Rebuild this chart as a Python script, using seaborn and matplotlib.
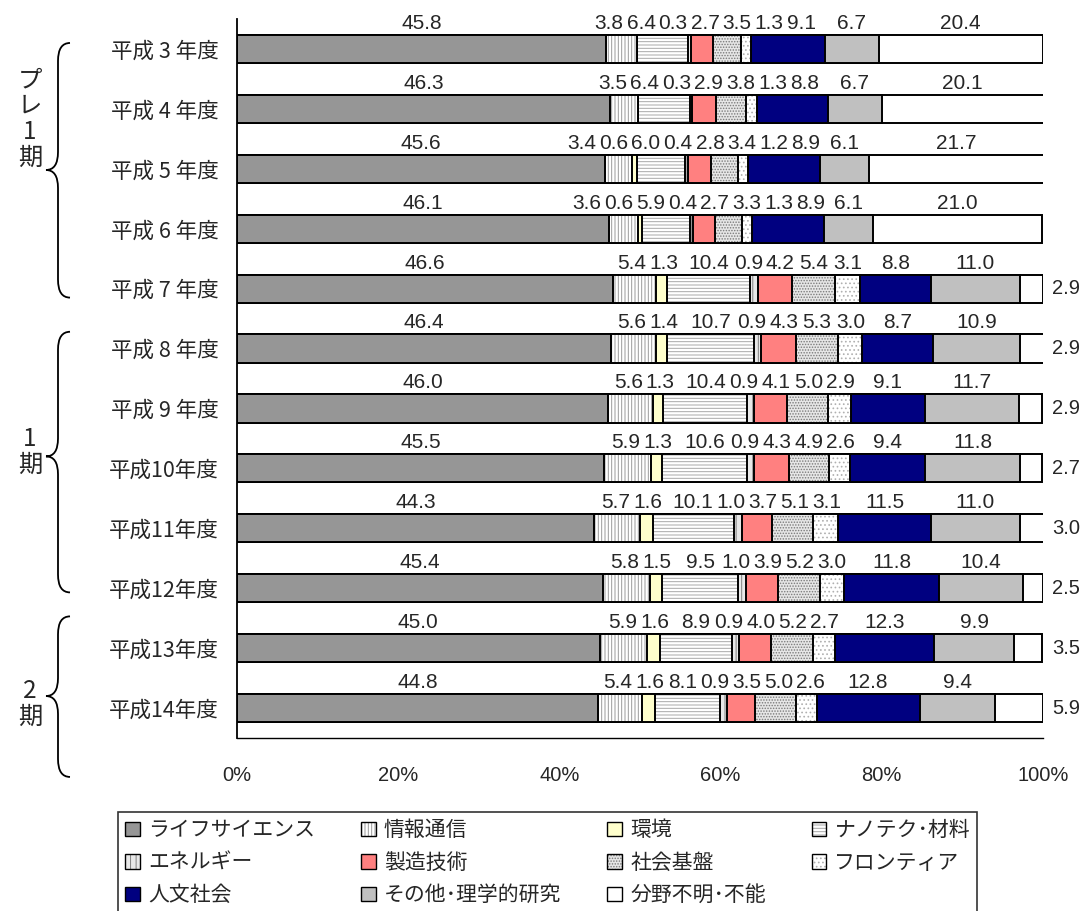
import numpy as np
import pandas as pd
import seaborn as sns
import matplotlib.pyplot as plt
import matplotlib.colors as mcolors
import matplotlib.transforms as mtransforms
from matplotlib.patches import Patch, PathPatch
from matplotlib.path import Path

years = ['平成 3 年度', '平成 4 年度', '平成 5 年度', '平成 6 年度', '平成 7 年度',
         '平成 8 年度', '平成 9 年度', '平成10年度', '平成11年度', '平成12年度',
         '平成13年度', '平成14年度']

fields = ['ライフサイエンス', '情報通信', '環境', 'ナノテク･材料', 'エネルギー',
          '製造技術', '社会基盤', 'フロンティア', '人文社会', 'その他･理学的研究',
          '分野不明･不能']

life = [45.8, 46.3, 45.6, 46.1, 46.6, 46.4, 46.0, 45.5, 44.3, 45.4, 45.0, 44.8]
info = [3.8, 3.5, 3.4, 3.6, 5.4, 5.6, 5.6, 5.9, 5.7, 5.8, 5.9, 5.4]
env = [0, 0, 0.6, 0.6, 1.3, 1.4, 1.3, 1.3, 1.6, 1.5, 1.6, 1.6]
nano = [6.4, 6.4, 6.0, 5.9, 10.4, 10.7, 10.4, 10.6, 10.1, 9.5, 8.9, 8.1]
energy = [0.3, 0.3, 0.4, 0.4, 0.9, 0.9, 0.9, 0.9, 1.0, 1.0, 0.9, 0.9]
manuf = [2.7, 2.9, 2.8, 2.7, 4.2, 4.3, 4.1, 4.3, 3.7, 3.9, 4.0, 3.5]
infra = [3.5, 3.8, 3.4, 3.3, 5.4, 5.3, 5.0, 4.9, 5.1, 5.2, 5.2, 5.0]
frontier = [1.3, 1.3, 1.2, 1.3, 3.1, 3.0, 2.9, 2.6, 3.1, 3.0, 2.7, 2.6]
human = [9.1, 8.8, 8.9, 8.9, 8.8, 8.7, 9.1, 9.4, 11.5, 11.8, 12.3, 12.8]
other = [6.7, 6.7, 6.1, 6.1, 11.0, 10.9, 11.7, 11.8, 11.0, 10.4, 9.9, 9.4]
unknown = [20.4, 20.1, 21.7, 21.0, 2.9, 2.9, 2.9, 2.7, 3.0, 2.5, 3.5, 5.9]

groups = ['プ\nレ\n1\n期', '1\n期', '2\n期']
pct_ticks = [0, 20, 40, 60, 80, 100]
pct_labels = ['0%', '20%', '40%', '60%', '80%', '100%']

series = [life, info, env, nano, energy, manuf, infra, frontier, human, other, unknown]

colors = ['#969696', 'white', '#FFFFCC', 'white', '#E8E8E8', '#FF8080',
          '#E6E6E6', 'white', '#000080', '#C0C0C0', 'white']
hatches = ['', '|||||', '', '-----', '|||', '', '......', '....', '', '', '']
hatch_cols = ['k', '#9a9a9a', 'k', '#a8a8a8', '#808080', 'k', '#7a7a7a', '#b0b0b0', 'k', 'k', 'k']

# long table with stacked start / end
rows = []
for yi, yr in enumerate(years):
    cum = 0.0
    for fi, f in enumerate(fields):
        v = series[fi][yi]
        rows.append({'year': yr, 'field': f, 'value': v, 'start': cum, 'end': cum + v})
        cum += v
df = pd.DataFrame(rows)

sns.set_style('white')
plt.rcParams['font.family'] = ['Noto Sans CJK JP', 'DejaVu Sans']
plt.rcParams['hatch.linewidth'] = 0.7


def set_hatch_color(p, c):
    if hasattr(p, 'set_hatchcolor'):
        p.set_hatchcolor(c)
    else:
        p._hatch_color = mcolors.to_rgba(c)


fig = plt.figure(figsize=(10.85, 9.11), dpi=100)
ax = fig.add_axes([237 / 1085, 1 - 738 / 911, (1043 - 237) / 1085, (738 - 19) / 911])

# stacked bars: draw cumulative ends from the last field back to the first
for fi in reversed(range(len(fields))):
    sub = df[df['field'] == fields[fi]]
    n0 = len(ax.patches)
    sns.barplot(data=sub, x='end', y='year', order=years, orient='h',
                color=colors[fi], saturation=1, width=0.47, errorbar=None,
                edgecolor='black', linewidth=1.4, ax=ax)
    for p in ax.patches[n0:]:
        if hatches[fi]:
            p.set_hatch(hatches[fi])
            set_hatch_color(p, hatch_cols[fi])

num_font = ['Liberation Sans', 'DejaVu Sans']
ax.set_xlim(0, 100)
ax.set_ylim(11.5, -0.5)
ax.set_xlabel('')
ax.set_ylabel('')
ax.set_xticks(pct_ticks)
ax.set_xticklabels(pct_labels, family=num_font, fontsize=14.5)
ax.set_yticks(range(len(years)))
ax.set_yticklabels(years, fontsize=15.5)
ax.set_yticks(np.arange(-0.5, len(years), 1), minor=True)
ax.tick_params(axis='y', which='major', length=0, pad=13)
ax.tick_params(axis='y', which='minor', direction='in', length=8, width=1.5, color='#808080')
ax.tick_params(axis='x', which='major', direction='in', length=8, width=1, color='black', pad=20)
for s in ['top', 'right']:
    ax.spines[s].set_visible(False)
ax.spines['left'].set_color('black')
ax.spines['left'].set_linewidth(1.3)
ax.spines['bottom'].set_color('black')
ax.spines['bottom'].set_linewidth(1.0)

# value labels
up = mtransforms.offset_copy(ax.transData, fig=fig, y=2, units='dots')
right = mtransforms.offset_copy(ax.transData, fig=fig, x=9, units='dots')
above = {}
for yi in range(len(years)):
    sub = df[df['year'] == years[yi]].reset_index(drop=True)
    above[yi] = []
    for fi in range(len(fields)):
        v = sub.loc[fi, 'value']
        if v <= 0:
            continue
        if fi == len(fields) - 1 and v < 10:
            ax.text(100, yi, f'{v:.1f}', transform=right, ha='left', va='center',
                    fontsize=14.5, family=num_font)
        else:
            cx = sub.loc[fi, 'start'] + v / 2
            t = ax.text(cx, yi - 0.235, f'{v:.1f}', transform=up, ha='center',
                        va='bottom', fontsize=15, family=num_font)
            above[yi].append(t)

# spread crowded labels apart
fig.canvas.draw()
renderer = fig.canvas.get_renderer()
for yi, texts in above.items():
    w = [t.get_window_extent(renderer).width for t in texts]
    px = [ax.transData.transform((t.get_position()[0], 0))[0] for t in texts]
    for _ in range(300):
        for k in range(len(px) - 1):
            need = (w[k] + w[k + 1]) / 2 + 3
            d = px[k + 1] - px[k]
            if d < need:
                sh = (need - d) / 2
                px[k] -= sh
                px[k + 1] += sh
    for t, p in zip(texts, px):
        t.set_x(ax.transData.inverted().transform((p, 0))[0])

# braces and period labels
btrans = mtransforms.blended_transform_factory(fig.transFigure, ax.transData)
brace_spans = [(-0.1, 2.02, 4.15), (4.72, 6.8, 9.07), (9.47, 10.8, 12.15)]
label_y = [1.17, 6.72, 10.93]
x_end, x_line, x_tip = 70 / 1085, 58 / 1085, 46 / 1085
r = 0.3
for (y0, ym, y1), lab, ly in zip(brace_spans, groups, label_y):
    verts = [(x_end, y0), (x_line, y0), (x_line, y0 + r),
             (x_line, ym - r), (x_line, ym), (x_tip, ym),
             (x_line, ym), (x_line, ym + r),
             (x_line, y1 - r), (x_line, y1), (x_end, y1)]
    codes = [Path.MOVETO, Path.CURVE3, Path.CURVE3,
             Path.LINETO, Path.CURVE3, Path.CURVE3,
             Path.CURVE3, Path.CURVE3,
             Path.LINETO, Path.CURVE3, Path.CURVE3]
    ax.add_artist(PathPatch(Path(verts, codes), transform=btrans, clip_on=False,
                            fill=False, edgecolor='black', linewidth=1.3))
    ax.text(30 / 1085, ly, lab, transform=btrans, ha='center', va='center',
            fontsize=17.5, linespacing=1.0, clip_on=False)

# legend, filled row by row
handles = []
for fi, f in enumerate(fields):
    h = Patch(facecolor=colors[fi], edgecolor='black', linewidth=1.0,
              hatch=hatches[fi], label=f)
    if hatches[fi]:
        set_hatch_color(h, hatch_cols[fi])
    handles.append(h)
ncol = 4
nrow = int(np.ceil(len(handles) / ncol))
ordered = [handles[r_ * ncol + c] for c in range(ncol) for r_ in range(nrow)
           if r_ * ncol + c < len(handles)]
leg = fig.legend(handles=ordered, ncol=ncol, loc='upper left',
                 bbox_to_anchor=(118 / 1085, 1 - 812 / 911), fontsize=15,
                 frameon=True, fancybox=False, edgecolor='black',
                 handlelength=0.7, handleheight=0.7, handletextpad=0.4,
                 columnspacing=2.2, labelspacing=0.5, borderpad=0.35,
                 borderaxespad=0)
leg.get_frame().set_linewidth(1.2)

fig.savefig('out.png', dpi=100)
